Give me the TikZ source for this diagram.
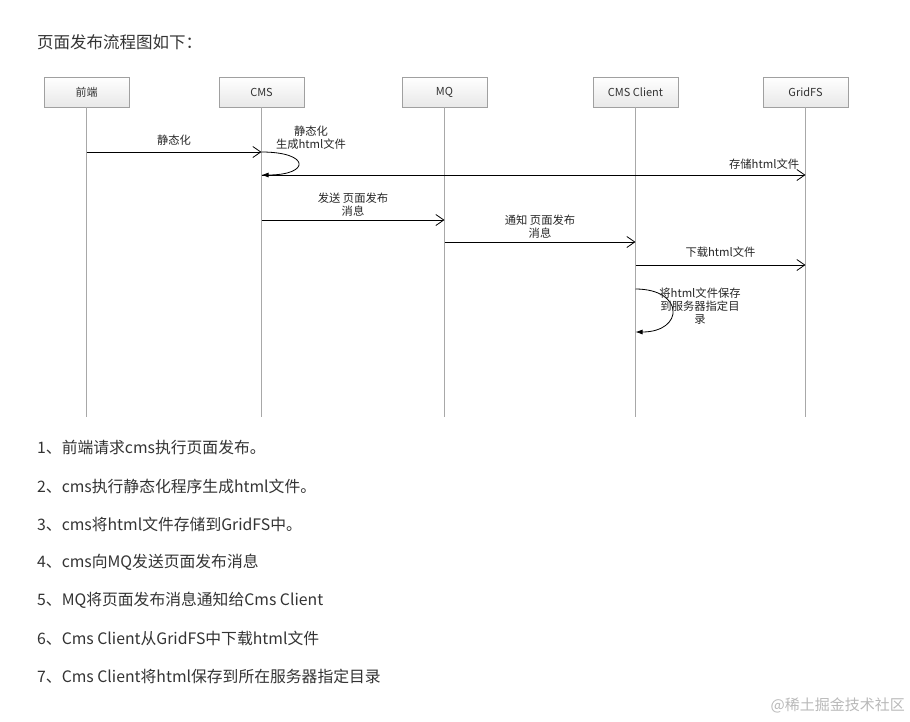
\documentclass[tikz,border=0pt]{standalone}
\usepackage{fontspec}
\setmainfont{Noto Sans CJK SC}
\usetikzlibrary{arrows.meta, positioning}
\definecolor{boxline}{HTML}{A0A0A0}
\definecolor{lifegray}{HTML}{A8A8A8}
\definecolor{textgray}{HTML}{333333}
\tikzstyle{actor} = [rectangle, minimum width=85pt, minimum height=30pt, draw=boxline, top color=white, bottom color=gray!18, font=\fontsize{11}{13}\selectfont, text=black!80]
\tikzstyle{lifeline} = [draw=lifegray, line width=1pt]
\tikzstyle{arrow} = [line width=0.8pt, -{Straight Barb[length=8pt,width=11pt]}]
\tikzstyle{selfarrow} = [line width=0.8pt, -{Latex[length=7pt,width=5pt]}]
\tikzstyle{msg} = [font=\fontsize{11.3}{13}\selectfont, align=center, inner sep=1pt, text=black!85]
\tikzstyle{listitem} = [anchor=west, font=\fontsize{15.8}{18}\selectfont, text=textgray, inner sep=0pt]

\begin{document}
\begin{tikzpicture}[x=1pt, y=-1pt]
        \useasboundingbox (0,0) rectangle (910,721);
        \node (title) [listitem, font=\fontsize{16.5}{19}\selectfont] at (37,42) {页面发布流程图如下：};

        \node (fe) [actor] at (86.5,92) {前端};
        \node (cms) [actor] at (261.5,92) {CMS};
        \node (mq) [actor] at (444.5,92) {MQ};
        \node (client) [actor] at (635.5,92) {CMS Client};
        \node (gridfs) [actor] at (805.5,92) {GridFS};

        % points on the lifelines
        \coordinate (fe-1) at (86.5,152);
        \coordinate (cms-1) at (261.5,152);
        \coordinate (cms-2) at (261.5,175);
        \coordinate (gridfs-3) at (805.5,175);
        \coordinate (cms-4) at (261.5,220);
        \coordinate (mq-4) at (444.5,220);
        \coordinate (mq-5) at (444.5,242);
        \coordinate (client-5) at (635.5,242);
        \coordinate (client-6) at (635.5,265);
        \coordinate (gridfs-6) at (805.5,265);
        \coordinate (client-7) at (635.5,289);
        \coordinate (client-8) at (635.5,332);

        \foreach \n in {fe, cms, mq, client, gridfs} {
            \coordinate (\n-end) at ([yshift=-310pt]\n.south);
            \draw [lifeline] (\n) -- (\n-end);
        }

        \draw [arrow] (fe-1) -- node[msg, above=5pt] {静态化} (cms-1);
        \draw [selfarrow] (cms-1) .. controls +(49,0) and +(49,0) .. (cms-2);
        \node (selflabel1) [msg] at (311,138) {静态化\\生成html文件};
        \draw [arrow] (cms-2) -- node[msg, pos=1, anchor=south east, xshift=-5pt, yshift=4pt] {存储html文件} (gridfs-3);
        \draw [arrow] (cms-4) -- node[msg, above=2pt] {发送 页面发布\\消息} (mq-4);
        \draw [arrow] (mq-5) -- node[msg, above=2pt] {通知 页面发布\\消息} (client-5);
        \draw [arrow] (client-6) -- node[msg, above=6pt] {下载html文件} (gridfs-6);
        \draw [selfarrow] (client-7) .. controls +(49,0) and +(49,0) .. (client-8);
        \node (selflabel2) [msg] at (700,306) {将html文件保存\\到服务器指定目\\录};

        % steps below the diagram
        \node (step1) [listitem] at (37,447) {1、前端请求cms执行页面发布。};
        \node (step2) [listitem] at (37,486) {2、cms执行静态化程序生成html文件。};
        \node (step3) [listitem] at (37,524) {3、cms将html文件存储到GridFS中。};
        \node (step4) [listitem] at (37,562) {4、cms向MQ发送页面发布消息};
        \node (step5) [listitem] at (37,600) {5、MQ将页面发布消息通知给Cms Client};
        \node (step6) [listitem] at (37,638) {6、Cms Client从GridFS中下载html文件};
        \node (step7) [listitem] at (37,676) {7、Cms Client将html保存到所在服务器指定目录};

        \node (mark) [anchor=east, inner sep=0pt, font=\fontsize{15}{18}\selectfont, text=gray!55] at (905,705) {@稀土掘金技术社区};
\end{tikzpicture}
\end{document}
